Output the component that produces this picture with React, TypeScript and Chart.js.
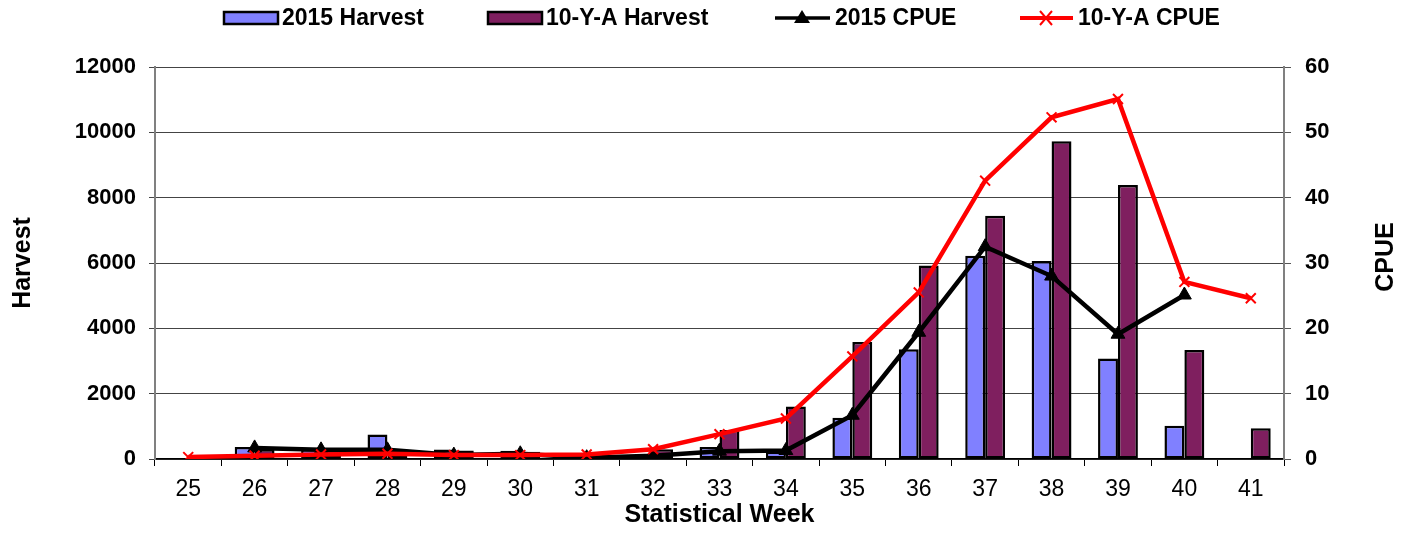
import React, { useEffect, useRef } from 'react';
import { Chart, registerables } from 'chart.js';

Chart.register(...registerables);

// ---- data ----
const weeks = ['25', '26', '27', '28', '29', '30', '31', '32', '33', '34', '35', '36', '37', '38', '39', '40', '41'];
const harvest2015 = [null, 370, 300, 750, 290, 250, 20, 60, 370, 230, 1260, 3360, 6220, 6060, 3080, 1020, null];
const harvest10y = [null, 300, 300, 300, 260, 220, 70, 300, 890, 1610, 3580, 5920, 7450, 9730, 8390, 3340, 940];
const cpue2015 = [null, 1.7, 1.4, 1.4, 0.6, 0.8, 0.2, 0.5, 1.2, 1.3, 6.7, 19.4, 32.5, 28.0, 19.1, 25.1, null];
const cpue10y = [0.3, 0.5, 0.7, 0.8, 0.6, 0.6, 0.7, 1.5, 3.8, 6.2, 15.7, 25.5, 42.6, 52.3, 55.1, 27.1, 24.6];
const seriesLabels = ['2015 Harvest', '10-Y-A Harvest', '2015 CPUE', '10-Y-A CPUE'];
const harvestTicks = [0, 2000, 4000, 6000, 8000, 10000, 12000];
const cpueTicks = [0, 10, 20, 30, 40, 50, 60];
const rightAxisTitle = 'CPUE';

const BLUE = '#8080FF';
const PURPLE = '#7F1F5F';
const FONT = "'Liberation Sans', Arial, sans-serif";

const legendPlugin = {
  id: 'customLegend',
  afterDraw(chart: any) {
    const ctx = chart.ctx;
    ctx.save();
    const cy = 18;
    ctx.font = `bold 23px ${FONT}`;
    ctx.textBaseline = 'middle';
    ctx.fillStyle = '#000';
    const boxes = [
      { x: 224, color: BLUE, text: seriesLabels[0] },
      { x: 488, color: PURPLE, text: seriesLabels[1] },
    ];
    boxes.forEach((b) => {
      ctx.fillStyle = b.color;
      ctx.fillRect(b.x, cy - 6, 54, 12);
      ctx.lineWidth = 2.5;
      ctx.strokeStyle = '#000';
      ctx.strokeRect(b.x, cy - 6, 54, 12);
      ctx.fillStyle = '#000';
      ctx.textAlign = 'left';
      ctx.fillText(b.text, b.x + 58, cy + 1);
    });
    // black line with triangle
    ctx.strokeStyle = '#000';
    ctx.lineWidth = 3.5;
    ctx.beginPath();
    ctx.moveTo(775, cy);
    ctx.lineTo(830, cy);
    ctx.stroke();
    ctx.fillStyle = '#000';
    ctx.beginPath();
    ctx.moveTo(802, cy - 8);
    ctx.lineTo(810, cy + 5);
    ctx.lineTo(794, cy + 5);
    ctx.closePath();
    ctx.fill();
    ctx.fillText(seriesLabels[2], 835, cy + 1);
    // red line with x
    ctx.strokeStyle = '#FF0000';
    ctx.lineWidth = 4;
    ctx.beginPath();
    ctx.moveTo(1020, cy);
    ctx.lineTo(1073, cy);
    ctx.stroke();
    ctx.lineWidth = 2;
    ctx.beginPath();
    ctx.moveTo(1040, cy - 7);
    ctx.lineTo(1052, cy + 7);
    ctx.moveTo(1052, cy - 7);
    ctx.lineTo(1040, cy + 7);
    ctx.stroke();
    ctx.fillStyle = '#000';
    ctx.fillText(seriesLabels[3], 1078, cy + 1);

    // right axis title, reading bottom to top
    const y1 = chart.scales.y1;
    ctx.save();
    ctx.translate(1386, (y1.top + y1.bottom) / 2 - 6);
    ctx.rotate(-Math.PI / 2);
    ctx.font = `bold 25px ${FONT}`;
    ctx.textAlign = 'center';
    ctx.textBaseline = 'middle';
    ctx.fillStyle = '#000';
    ctx.fillText(rightAxisTitle, 0, 0);
    ctx.restore();

    ctx.restore();
  },
};

export default function App() {
  const ref = useRef<HTMLCanvasElement | null>(null);
  useEffect(() => {
    document.body.style.margin = '0';
    const canvas = ref.current;
    if (!canvas) return;
    const chart = new Chart(canvas, {
      type: 'bar',
      data: {
        labels: weeks,
        datasets: [
          {
            type: 'bar',
            label: seriesLabels[0],
            data: harvest2015,
            backgroundColor: BLUE,
            borderColor: '#000',
            borderWidth: 2.5,
            borderSkipped: false,
            yAxisID: 'y',
            order: 3,
            categoryPercentage: 0.6,
            barPercentage: 1.0,
          },
          {
            type: 'bar',
            label: seriesLabels[1],
            data: harvest10y,
            backgroundColor: PURPLE,
            borderColor: '#000',
            borderWidth: 2.5,
            borderSkipped: false,
            yAxisID: 'y',
            order: 4,
            categoryPercentage: 0.6,
            barPercentage: 1.0,
          },
          {
            type: 'line',
            label: seriesLabels[2],
            data: cpue2015,
            borderColor: '#000',
            backgroundColor: '#000',
            borderWidth: 4.5,
            pointStyle: 'triangle',
            pointRadius: 8,
            pointBackgroundColor: '#000',
            pointBorderColor: '#000',
            pointBorderWidth: 1,
            yAxisID: 'y1',
            order: 2,
            tension: 0,
          },
          {
            type: 'line',
            label: seriesLabels[3],
            data: cpue10y,
            borderColor: '#FF0000',
            backgroundColor: '#FF0000',
            borderWidth: 4.5,
            pointStyle: 'crossRot',
            pointRadius: 7,
            pointBorderColor: '#FF0000',
            pointBorderWidth: 2,
            yAxisID: 'y1',
            order: 1,
            tension: 0,
          },
        ],
      } as any,
      options: {
        responsive: false,
        animation: false,
        layout: { padding: { top: 67, left: 0, right: 0, bottom: 0 } },
        plugins: {
          legend: { display: false },
          tooltip: { enabled: false },
        },
        scales: {
          x: {
            type: 'category',
            offset: true,
            grid: {
              offset: true,
              drawOnChartArea: false,
              drawTicks: true,
              tickLength: 7,
              color: '#000',
              lineWidth: 1,
            },
            border: { display: true, color: '#000', width: 1.5 },
            ticks: {
              color: '#000',
              font: { family: FONT, size: 23, weight: 'normal' },
              padding: 10,
              maxRotation: 0,
              autoSkip: false,
            },
            title: {
              display: true,
              text: 'Statistical Week',
              color: '#000',
              font: { family: FONT, size: 25, weight: 'bold', lineHeight: 1.2 },
              padding: { top: 0, bottom: 8 },
            },
            afterFit: (s: any) => {
              s.height = 79;
            },
          },
          y: {
            type: 'linear',
            position: 'left',
            min: 0,
            max: 12000,
            afterBuildTicks: (s: any) => {
              s.ticks = harvestTicks.map((v) => ({ value: v }));
            },
            grid: {
              color: '#444',
              lineWidth: 1,
              drawTicks: true,
              tickLength: 6,
            },
            border: { display: true, color: '#808080', width: 2 },
            ticks: {
              color: '#000',
              font: { family: FONT, size: 22, weight: 'bold' },
              padding: 13,
              callback: (v: any) => String(v),
            },
            title: {
              display: true,
              text: 'Harvest',
              color: '#000',
              font: { family: FONT, size: 25, weight: 'bold', lineHeight: 1.2 },
              padding: { top: 8, bottom: 0 },
            },
            afterFit: (s: any) => {
              s.width = 155;
            },
          },
          y1: {
            type: 'linear',
            position: 'right',
            min: 0,
            max: 60,
            afterBuildTicks: (s: any) => {
              s.ticks = cpueTicks.map((v) => ({ value: v }));
            },
            grid: {
              drawOnChartArea: false,
              drawTicks: true,
              tickLength: 7,
              color: '#555',
            },
            border: { display: true, color: '#808080', width: 2 },
            ticks: {
              color: '#000',
              font: { family: FONT, size: 22, weight: 'bold' },
              padding: 14,
              callback: (v: any) => String(v),
            },
            title: { display: false },
            afterFit: (s: any) => {
              s.width = 120;
            },
          },
        },
      } as any,
      plugins: [legendPlugin],
    });
    return () => chart.destroy();
  }, []);
  return (
    <div style={{ position: 'relative', width: 1404, height: 538 }}>
      <canvas ref={ref} width={1404} height={538} style={{ display: 'block' }} />
    </div>
  );
}
